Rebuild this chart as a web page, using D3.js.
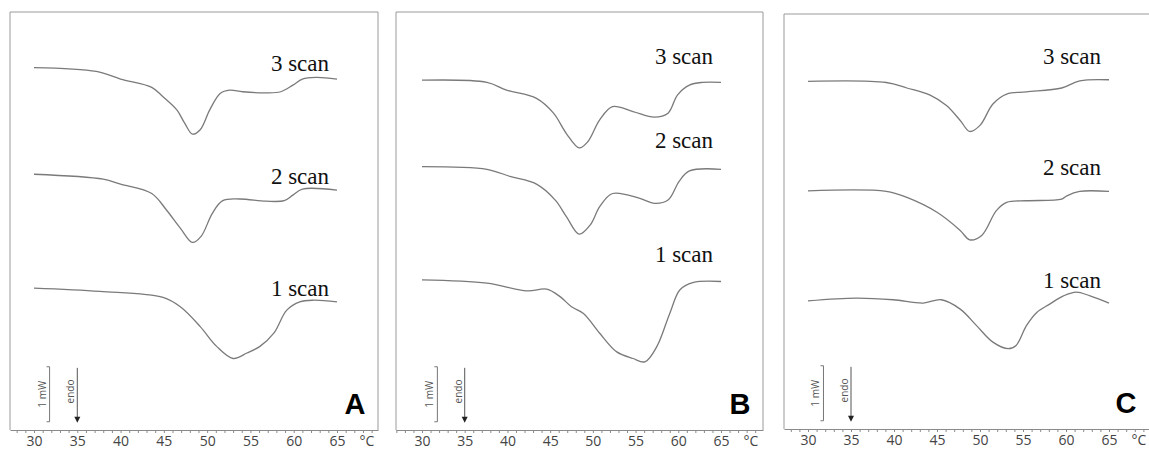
<!DOCTYPE html>
<html lang="en">
<head>
<meta charset="utf-8">
<title>DSC scans A, B, C</title>
<script src="https://cdn.jsdelivr.net/npm/d3@7"></script>
<style>
body { margin: 0; background: #fff; }
.axis path, .axis line { fill: none; stroke: #8a8a8a; }
.axis text { font-family: "Open Sans", sans-serif; font-size: 14px; fill: #444; }
.unit { font-family: "Open Sans", sans-serif; font-size: 14px; fill: #444; }
.frame { fill: none; stroke: #9a9a9a; stroke-width: 1; }
.curve { fill: none; stroke: #7a7a7a; stroke-width: 1.3; }
.scan { font-family: "Liberation Serif", serif; font-size: 23px; fill: #111; }
.note { font-family: "Open Sans", sans-serif; font-size: 10px; fill: #555; }
.letter { font-family: "Liberation Sans", Arial, sans-serif; font-weight: bold; font-size: 29px; fill: #000; }
</style>
</head>
<body>
<svg id="chart" width="1149" height="450"></svg>
<script>
var panelNames = ["A", "B", "C"];
var scanLabels = ["3 scan", "2 scan", "1 scan"];
var tempTicks = [30, 35, 40, 45, 50, 55, 60, 65];

// temperature (°C) and heat flow (mW, shifted per scan)
var a3T = [30, 37.2, 40, 43.6, 44.9, 46.5, 47.4, 48.3, 49.2, 50.3, 51.5, 52.6, 54.1, 56.8, 58.5, 59.9, 61.0, 62.6, 65];
var a3  = [6.59, 6.52, 6.38, 6.23, 6.06, 5.82, 5.58, 5.38, 5.46, 5.82, 6.12, 6.18, 6.15, 6.13, 6.15, 6.27, 6.38, 6.41, 6.38];
var a2T = [30, 38, 40, 43.6, 45.3, 46.9, 48.3, 49.3, 50.6, 51.8, 53.8, 56.8, 58.9, 59.9, 61.0, 65];
var a2  = [4.65, 4.56, 4.47, 4.30, 4.00, 3.67, 3.41, 3.52, 3.94, 4.17, 4.20, 4.16, 4.17, 4.27, 4.38, 4.36];
var a1T = [30, 37.6, 44.9, 46.9, 49.2, 51.1, 53.0, 54.6, 56.1, 57.7, 59.2, 60.7, 62.3, 65];
var a1  = [2.58, 2.52, 2.41, 2.24, 1.88, 1.52, 1.30, 1.40, 1.52, 1.76, 2.18, 2.33, 2.36, 2.33];

var b3T = [30, 37.6, 39.9, 43.4, 45.4, 46.9, 48.4, 49.4, 50.8, 52.3, 54.7, 57.2, 58.8, 59.9, 61.3, 62.8, 65];
var b3  = [6.36, 6.32, 6.18, 6.03, 5.76, 5.39, 5.13, 5.24, 5.64, 5.88, 5.79, 5.69, 5.76, 6.09, 6.27, 6.32, 6.32];
var b2T = [30, 37.6, 40.3, 43.4, 45.6, 46.9, 48.4, 49.7, 50.8, 52.3, 55.5, 57.2, 58.8, 60.1, 61.3, 65];
var b2  = [4.79, 4.74, 4.61, 4.47, 4.18, 3.88, 3.56, 3.73, 4.06, 4.30, 4.21, 4.12, 4.18, 4.52, 4.71, 4.74];
var b1T = [30, 37.6, 42.3, 44.6, 46.2, 47.5, 48.9, 50.8, 52.8, 54.7, 56.1, 57.5, 59.0, 60.2, 61.7, 65];
var b1  = [2.73, 2.67, 2.53, 2.56, 2.42, 2.24, 2.12, 1.76, 1.42, 1.30, 1.24, 1.52, 2.12, 2.55, 2.68, 2.70];

var c3T = [30, 39.1, 41.5, 44.2, 46.1, 47.7, 48.8, 50.0, 51.5, 53.1, 55.4, 59.5, 61.6, 65];
var c3  = [6.32, 6.30, 6.20, 6.07, 5.88, 5.61, 5.41, 5.52, 5.91, 6.09, 6.13, 6.20, 6.33, 6.35];
var c2T = [30, 39.1, 41.5, 45, 47.7, 48.8, 50.2, 51.9, 53.1, 55.4, 59.5, 60.1, 61.6, 65];
var c2  = [4.33, 4.32, 4.21, 3.94, 3.61, 3.44, 3.52, 3.97, 4.12, 4.15, 4.18, 4.24, 4.32, 4.32];
var c1T = [30, 35.6, 39.9, 43.4, 45.5, 47.7, 49.6, 51.5, 53.3, 54.2, 55.4, 56.6, 58.1, 59.7, 61.2, 62.8, 65];
var c1  = [2.33, 2.38, 2.35, 2.29, 2.35, 2.18, 1.88, 1.58, 1.46, 1.52, 1.88, 2.12, 2.27, 2.42, 2.49, 2.42, 2.29];

var mwPerBar = 1;   // scale bar: 1 mW

var svg = d3.select("#chart");
var pxPerMw = 55;

var panels = [
    {left: 10,  right: 378,  top: 12, bottom: 430, x0: 34,  x1: 337,  labelDy: [-8, -6, -6],
     curves: [[a3T, a3], [a2T, a2], [a1T, a1]]},
    {left: 396, right: 763,  top: 12, bottom: 430, x0: 422, x1: 721,  labelDy: [-18, -21, -20],
     curves: [[b3T, b3], [b2T, b2], [b1T, b1]]},
    {left: 784, right: 1152, top: 14, bottom: 429, x0: 808, x1: 1109, labelDy: [-16, -16, -15],
     curves: [[c3T, c3], [c2T, c2], [c1T, c1]]}
];

panels.forEach(function(p, i) {
    var g = svg.append("g");

    var x = d3.scaleLinear().domain([30, 65]).range([p.x0, p.x1]);
    var y = d3.scaleLinear().domain([0, 1]).range([p.bottom, p.bottom - pxPerMw]);

    // frame (left, top, right)
    g.append("path")
     .attr("class", "frame")
     .attr("d", "M" + p.left + "," + p.bottom + "V" + p.top + "H" + p.right + "V" + p.bottom);

    // bottom axis, minor ticks every 1 °C across the whole frame
    var xa = d3.scaleLinear()
               .domain([x.invert(p.left), x.invert(p.right)])
               .range([p.left, p.right]);
    var xAxis = d3.axisBottom(xa)
                  .tickValues(d3.range(Math.ceil(xa.domain()[0]), Math.floor(xa.domain()[1]) + 1))
                  .tickSize(3)
                  .tickSizeOuter(0)
                  .tickPadding(3)
                  .tickFormat(function(d) { return tempTicks.indexOf(d) >= 0 ? d : ""; });
    g.append("g")
     .attr("class", "axis")
     .attr("transform", "translate(0," + p.bottom + ")")
     .call(xAxis);
    g.append("text")
     .attr("class", "unit")
     .attr("x", x(65) + 30)
     .attr("y", p.bottom + 6)
     .attr("dy", "0.71em")
     .attr("text-anchor", "middle")
     .text("°C");

    // curves
    var line = d3.line()
                 .x(function(d) { return x(d[0]); })
                 .y(function(d) { return y(d[1]); })
                 .curve(d3.curveCatmullRom.alpha(0.5));
    p.curves.forEach(function(c, k) {
        var pts = d3.zip(c[0], c[1]);
        g.append("path").attr("class", "curve").attr("d", line(pts));
        g.append("text")
         .attr("class", "scan")
         .attr("x", x(65) - 8)
         .attr("y", y(c[1][c[1].length - 1]) + p.labelDy[k])
         .attr("text-anchor", "end")
         .text(scanLabels[k]);
    });

    // 1 mW scale bar
    var bx = x(31.8), b0 = y(0.15), b1 = y(0.15 + mwPerBar);
    g.append("path")
     .attr("class", "frame")
     .style("stroke", "#777")
     .attr("d", "M" + (bx - 3) + "," + b1 + "H" + bx + "V" + b0 + "H" + (bx - 3));
    g.append("text")
     .attr("class", "note")
     .attr("transform", "translate(" + (bx - 4) + "," + ((b0 + b1) / 2) + ") rotate(-90)")
     .attr("text-anchor", "middle")
     .text("1 mW");

    // endo arrow at 35 °C
    var ax = x(35), a0 = y(0.13), a1y = y(1.13);
    g.append("line")
     .attr("x1", ax).attr("x2", ax)
     .attr("y1", a1y).attr("y2", a0 - 5)
     .attr("stroke", "#555").attr("stroke-width", 1);
    g.append("path")
     .attr("d", "M" + (ax - 3) + "," + (a0 - 6) + "L" + (ax + 3) + "," + (a0 - 6) + "L" + ax + "," + a0 + "Z")
     .attr("fill", "#222");
    g.append("text")
     .attr("class", "note")
     .attr("transform", "translate(" + (ax - 3) + "," + y(0.7) + ") rotate(-90)")
     .attr("text-anchor", "middle")
     .text("endo");

    // panel letter
    g.append("text")
     .attr("class", "letter")
     .attr("x", Math.min(p.right, 1149) - 23)
     .attr("y", p.bottom - 16)
     .attr("text-anchor", "middle")
     .text(panelNames[i]);
});
</script>
</body>
</html>
